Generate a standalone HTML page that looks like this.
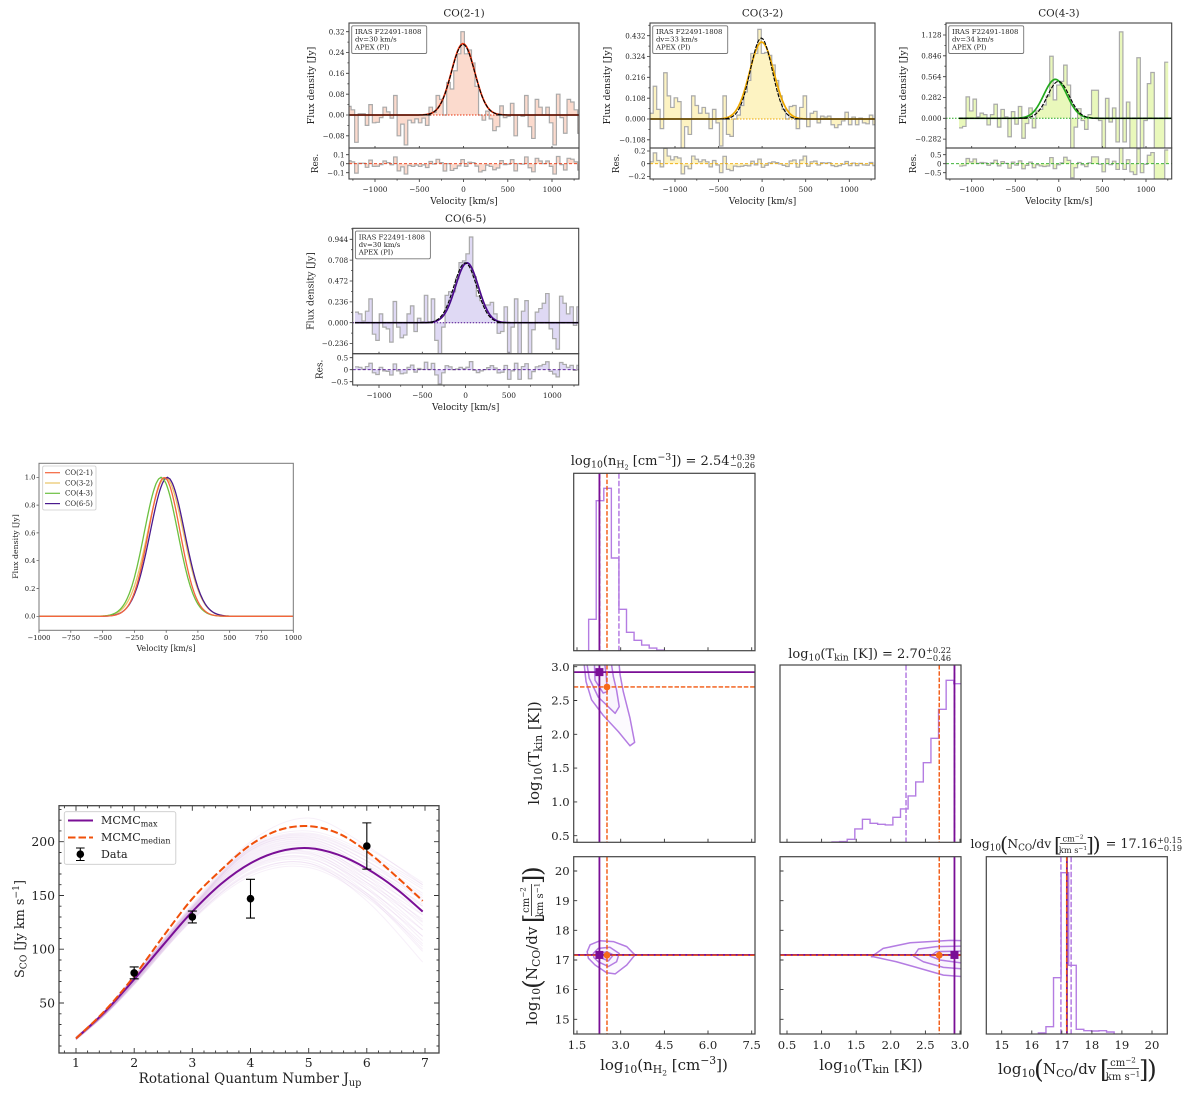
<!DOCTYPE html>
<html lang="en">
<head>
<meta charset="utf-8">
<title>CO line spectra and MCMC corner plot</title>
<style>
html,body{margin:0;padding:0;background:#fff;}
#figure{display:block;width:1200px;height:1094px;}
text{font-family:"DejaVu Serif","Liberation Serif",serif;fill:#222;}
</style>
</head>
<body>
<svg id="figure" xmlns="http://www.w3.org/2000/svg" width="1200" height="1094" viewBox="0 0 1200 1094"></svg>
<script>
/* ---------- spectrum data (flux density per velocity bin, Jy) ---------- */
const co21Flux=[.033,.02,-.105,.005,.005,-.04,.04,-.03,-.028,-.01,.03,.012,-.012,.075,-.08,-.035,-.115,-.02,-.03,-.015,-.03,-.012,-.04,.03,.01,.075,.06,0,.125,.10,.17,.235,.32,.235,.25,.2,.11,0,-.02,.015,-.015,-.06,-.045,.035,-.01,-.005,.045,-.08,0,-.005,.075,-.045,-.09,.06,.03,0,.03,-.03,-.115,.08,-.01,-.07,.06,.05,.02,-.07,.03];
const co21Start=-1310;
const co32Flux=[.03,.17,.05,-.05,.24,.12,.06,.11,.09,-.16,-.04,-.08,.12,.07,.03,.06,.03,-.05,.05,-.02,-.14,.12,-.08,-.09,0,.02,.07,.14,.2,.34,.34,.465,.34,.345,.33,.28,.2,.12,.05,0,.065,.07,-.05,.06,.12,-.04,.03,.04,-.02,.015,.01,.015,-.03,-.045,-.03,-.01,.035,-.03,.01,-.03,.005,-.02,-.025,.02,-.03,.065];
const co32Start=-1290;
const co43Flux=[-.13,-.11,.29,.1,.26,.02,.07,.05,-.09,.05,.19,-.12,.12,.02,-.25,.09,-.08,.16,-.27,-.07,.14,-.13,.1,.12,.18,.3,.84,.25,.45,.5,.72,.45,-.6,-.12,.13,-.03,-.15,.05,.38,.38,-.03,-.45,.27,-.05,.14,-.32,1.17,-.32,.22,-.45,-.6,.82,-.5,-.03,.47,.62,-.9,-.9,-.9,.76];
const co43Start=-1145;
const co65Flux=[.12,.1,.02,.13,.27,-.13,-.2,.1,-.05,-.07,-.22,.24,-.05,-.17,-.14,.1,.19,-.1,.05,.01,.31,.01,.27,-.2,-.55,-.05,.31,.35,.35,.5,.68,.7,.78,.97,.52,.3,.25,.2,.2,.23,.1,-.12,-.1,.18,-.4,-.05,.27,-.4,.13,.25,-.38,-.08,.12,.16,.22,.33,-.07,-.18,-.3,.3,.22,.1,.18,-.03,.18,-.3];
const co65Start=-1277;
const binStep=40;

/* shared line-profile read-off: offset from line centre (km/s) and normalised height */
const profileOffsets=[0,20,40,60,80,100,120,140,160,180,200,220,240,260,280,300,320,340,360,380,400,420,440,460,480];
const profileValues=[1,.987,.95,.891,.815,.726,.631,.534,.441,.355,.278,.212,.158,.115,.081,.056,.038,.0247,.0158,.0098,.006,.0035,.002,.001,.0006];

/* fitted line: peak (Jy), centre (km/s), width factor */
const fit21=[.275,-5,1.05];
const ref21=[.272,-5,1.05];
const fit32=[.40,-5,1.12];
const ref32=[.42,-10,1];
const fit43=[.53,-40,1.05];
const ref43=[.50,-5,1];
const fit65=[.68,15,1.05];
const ref65=[.68,-5,1.05];

const co21Ticks=[-.08,0,.08,.16,.24,.32];
const co32Ticks=[-.108,0,.108,.216,.324,.432];
const co43Ticks=[-.282,0,.282,.564,.846,1.128];
const co65Ticks=[-.236,0,.236,.472,.708,.944];
const co21ResTicks=[-.1,0,.1];
const co32ResTicks=[-.2,0,.2];
const co43ResTicks=[-.5,0,.5];
const co65ResTicks=[-.5,0,.5];
const velocityTicks=[-1000,-500,0,500,1000];
const velocityMinor=[-1250,-750,-250,250,750,1250];

/* ---------- normalised overlay ---------- */
const overlayNames=['CO(2-1)','CO(3-2)','CO(4-3)','CO(6-5)'];
const overlayCentres=[-15,-5,-40,10];
const overlayWidths=[1,1.12,1.05,1.08];
const overlayXTicks=[-1000,-750,-500,-250,0,250,500,750,1000];
const overlayYTicks=[0,.2,.4,.6,.8,1];

/* ---------- CO SLED ---------- */
const sledDataJ=[2,3,4,6];
const sledDataS=[78,130,147,196];
const sledDataErr=[5.5,5.5,18,21.5];
const sledCurveJ=[1,1.5,2,2.5,3,3.5,4,4.5,5,5.5,6,6.5,6.96];
const sledMax=[17,42,72,104,135,161,180,191,194,188,175,156.5,135];
const sledMedian=[17,43,75,112,147,174,197,211,214.5,208,191,168,145];
const sampleJ=[1,1.5,2,3,4,5,6,6.96];
const sledSamples=[
[15.5,39,67,127,168,176,148,103],[16,39,67,128,170,178,150,105],[16,39.5,68,128,171,180,145,88],[16,39.5,68,129,172,180,152,112],
[16,39.5,68,130,174,182,150,98],[16.5,40,69,130,175,184,156,118],[16,40,69,131,176,185,152,100],[16.5,40,69,131,177,186,160,125],
[16.5,40,69,132,178,188,156,108],[16.5,40.5,70,132,179,189,162,128],[16.5,40.5,70,133,180,190,158,112],[17,40.5,70,133,181,191,165,132],
[17,40.5,70,134,182,193,162,118],[17,41,71,134,183,194,168,136],[17,41,71,135,184,195,165,122],[17,41,71,135,185,196,170,140],
[17,41.5,72,136,186,197,168,126],[17,41.5,72,136,187,198,173,142],[17,41.5,72,137,188,199,172,132],[17.5,41.5,72,137,189,200,176,146],
[17.5,42,73,137,190,201,175,136],[17.5,42,73,138,191,202,179,148],[17.5,42,73,138,192,203,178,140],[17.5,42,73,138,192,204,182,150],
[17.5,42.5,74,139,193,205,182,145],[18,42.5,74,139,194,206,185,152],[18,42.5,74,139,194,207,186,156],[18,42.5,74,140,195,208,188,158],
[18,43,75,140,196,210,190,160],[18.5,43,75,141,198,214,194,162],[18.5,43,75,142,200,222,196,160]];

/* ---------- corner plot ---------- */
const nTicks=[1.5,3,4.5,6,7.5];
const tTicks=[.5,1,1.5,2,2.5,3];
const cTicks=[15,16,17,18,19,20];
const nBest=2.27, nMedian=2.53, nQuantiles=[2.28,2.94];
const tBest=2.92, tMedian=2.70, tQuantiles=[2.22,2.92];
const cBest=17.17, cMedian=17.16, cQuantiles=[16.97,17.31];
const nHistStart=1.90, nHistWidth=.26;
const nHistCounts=[94,450,487,278,124,55,31,17,8,2];
const tHistStart=1.15, tHistWidth=.11;
const tHistCounts=[1,2,9,40,69,57,54,52,75,100,139,181,239,312,399,486,476];
const cHistStart=16.22, cHistWidth=.252;
const cHistCounts=[3,22,169,484,206,14,10,9,10,6];
const ntOuter=[[1.75,3.02],[1.81,2.78],[2,2.51],[2.4,2.28],[2.92,2.04],[3.32,1.83],[3.48,1.88],[3.32,2.24],[3.09,2.63],[2.98,2.88],[2.95,3.02]];
const ntMiddle=[[1.85,3.02],[1.92,2.83],[2.23,2.55],[2.81,2.31],[2.95,2.41],[2.86,2.65],[2.75,2.85],[2.69,3.02]];
const ntInner=[[2.1,3.02],[2.12,2.8],[2.4,2.61],[2.54,2.63],[2.5,2.88],[2.46,3.02]];
const ncOuter=[[1.85,17.28],[1.95,17.51],[2.29,17.65],[2.75,17.62],[3.21,17.45],[3.49,17.17],[3.21,16.83],[2.81,16.53],[2.52,16.57],[2.12,16.83],[1.89,17.06]];
const ncMiddle=[[2.06,17.22],[2.23,17.39],[2.63,17.43],[2.95,17.22],[2.86,16.94],[2.58,16.78],[2.23,16.94],[2.08,17.08]];
const ncInner=[[2.23,17.2],[2.52,17.28],[2.75,17.17],[2.58,16.97],[2.35,17.06]];
const tcOuter=[[1.72,17.11],[1.89,17.39],[2.28,17.58],[2.86,17.66],[3.08,17.65],[3.08,16.43],[2.76,16.49],[2.37,16.75],[2.08,16.94],[1.75,17.11]];
const tcMiddle=[[2.33,17.13],[2.4,17.37],[2.66,17.45],[3.05,17.47],[3.05,16.7],[2.76,16.75],[2.47,16.94],[2.33,17.13]];
const tcInner=[[2.57,17.13],[2.66,17.28],[3.05,17.3],[3.05,16.89],[2.71,17]];

/* ---------- helpers ---------- */
const NS='http://www.w3.org/2000/svg';
const root=document.getElementById('figure');
let clipCount=0;
function add(parent,tag,attrs,name){
  const el=document.createElementNS(NS,tag);
  
  
  for(const k in attrs){el.setAttribute(k,attrs[k]);}
  parent.appendChild(el);
  return el;
}
function group(parent,name,attrs){return add(parent,'g',attrs||{},name);}
function label(parent,x,y,str,size,anchor,name,extra){
  const el=add(parent,'text',Object.assign({x:x,y:y,'font-size':size,'text-anchor':anchor||'middle'},extra||{}),name);
  el.textContent=str;
  return el;
}
/* runs: [string, scale, baseline shift in px (positive = up)] */
function rich(parent,x,y,size,runs,anchor,name,rotate){
  const attrs={x:x,y:y,'font-size':size,'text-anchor':anchor||'middle'};
  if(rotate){attrs.transform='rotate('+rotate+' '+x+' '+y+')';}
  const el=add(parent,'text',attrs,name);
  let prev=0;
  runs.forEach(function(r){
    const t=document.createElementNS(NS,'tspan');
    t.setAttribute('font-size',size*(r[1]||1));
    t.setAttribute('dy',prev-(r[2]||0));
    t.textContent=r[0];
    prev=r[2]||0;
    el.appendChild(t);
  });
  return el;
}
function linear(a0,p0,a1,p1){return function(v){return p0+(v-a0)*(p1-p0)/(a1-a0);};}
function minusSign(s){return String(s).replace('-','\u2212');}
function clipRect(parent,x,y,w,h){
  const id='clip'+(++clipCount);
  const c=add(parent,'clipPath',{id:id},'clip-region');
  add(c,'rect',{x:x,y:y,width:w,height:h},'clip-rect');
  return 'url(#'+id+')';
}
function profileAt(d){
  const a=Math.abs(d);
  const last=profileOffsets.length-1;
  if(a>=profileOffsets[last]){return 0;}
  let i=0;
  while(profileOffsets[i+1]<a){i++;}
  const f=(a-profileOffsets[i])/(profileOffsets[i+1]-profileOffsets[i]);
  return profileValues[i]+f*(profileValues[i+1]-profileValues[i]);
}
function lineModel(v,fit){return fit[0]*profileAt((v-fit[1])/fit[2]);}
function linePath(xs,ys){
  return xs.map(function(x,i){return (i?'L':'M')+x.toFixed(2)+' '+ys[i].toFixed(2);}).join('');
}
function spline(xs,ys){
  let d='M'+xs[0].toFixed(2)+' '+ys[0].toFixed(2);
  for(let i=0;i<xs.length-1;i++){
    const i0=Math.max(i-1,0), i3=Math.min(i+2,xs.length-1);
    const c1x=xs[i]+(xs[i+1]-xs[i0])/6, c1y=ys[i]+(ys[i+1]-ys[i0])/6;
    const c2x=xs[i+1]-(xs[i3]-xs[i])/6, c2y=ys[i+1]-(ys[i3]-ys[i])/6;
    d+='C'+c1x.toFixed(2)+' '+c1y.toFixed(2)+' '+c2x.toFixed(2)+' '+c2y.toFixed(2)+' '+xs[i+1].toFixed(2)+' '+ys[i+1].toFixed(2);
  }
  return d;
}
function stepPaths(start,width,values,sx,sy){
  let d='';
  values.forEach(function(v,i){
    const x0=sx(start+i*width), x1=sx(start+(i+1)*width), y=sy(v).toFixed(2);
    d+=(i?'L'+x0.toFixed(2)+' '+y:'M'+x0.toFixed(2)+' '+y)+'L'+x1.toFixed(2)+' '+y;
  });
  const xa=sx(start).toFixed(2), xb=sx(start+values.length*width).toFixed(2), y0=sy(0).toFixed(2);
  return {line:d,fill:d+'L'+xb+' '+y0+'L'+xa+' '+y0+'Z'};
}
function tickPath(list){return list.join('');}

/* ---------- spectrum panel ---------- */
function velocityGrid(v0){
  const out=[];
  for(let v=v0;v<=1310;v+=20){out.push(v);}
  return out;
}
function spectrumPanel(p,flux,start,fit,ref,yTicks,resTicks,decimals){
  const g=group(root,p.key+'-panel');
  const sx=linear(-1000,p.xm,1000,p.xp);
  const sy=linear(0,p.y0,yTicks[yTicks.length-1],p.yTop);
  const sr=linear(0,p.r0,resTicks[2],p.rTop);
  const w=p.right-p.left;
  label(g,(p.left+p.right)/2,p.top-6.3,p.title,10.4,'middle',p.key+'-title');
  const cm=clipRect(g,p.left,p.top,w,p.mid-p.top);
  const cr=clipRect(g,p.left,p.mid,w,p.bottom-p.mid);
  /* main spectrum */
  const inner=group(g,p.key+'-spectrum',{'clip-path':cm});
  const st=stepPaths(start,binStep,flux,sx,sy);
  add(inner,'path',{d:st.fill,fill:p.fill,stroke:'none'},p.key+'-flux-fill');
  add(inner,'path',{d:st.line,fill:'none',stroke:'#aaa','stroke-width':1.2},p.key+'-flux-steps');
  add(inner,'line',{x1:p.left,x2:p.right,y1:sy(0),y2:sy(0),stroke:p.color,'stroke-width':1,'stroke-dasharray':'1.5 1.5'},p.key+'-zero-line');
  const vs=velocityGrid(start);
  add(inner,'path',{d:linePath(vs.map(sx),vs.map(function(v){return sy(lineModel(v,fit));})),fill:'none',stroke:p.color,'stroke-width':1.7},p.key+'-gaussian-fit');
  add(inner,'path',{d:linePath(vs.map(sx),vs.map(function(v){return sy(lineModel(v,ref));})),fill:'none',stroke:'#000','stroke-width':1.1,'stroke-dasharray':'4 1.4'},p.key+'-reference-fit');
  const wing0=vs.filter(function(v){return v<-360;});
  const wing1=vs.filter(function(v){return v>360;});
  add(inner,'path',{d:'M'+sx(wing0[0])+' '+sy(0)+'H'+sx(wing0[wing0.length-1])+'M'+sx(wing1[0])+' '+sy(0)+'H'+sx(wing1[wing1.length-1]),stroke:'#000','stroke-width':1.1,fill:'none'},p.key+'-baseline');
  /* residual */
  const resid=flux.map(function(f,i){return f-lineModel(start+(i+.5)*binStep,fit);});
  const rg=group(g,p.key+'-residuals',{'clip-path':cr});
  const rt=stepPaths(start,binStep,resid,sx,sr);
  add(rg,'path',{d:rt.fill,fill:p.fill,stroke:'none'},p.key+'-residual-fill');
  add(rg,'path',{d:rt.line,fill:'none',stroke:'#aaa','stroke-width':1.2},p.key+'-residual-steps');
  add(rg,'line',{x1:p.left,x2:p.right,y1:sr(0),y2:sr(0),stroke:p.color,'stroke-width':.8,'stroke-dasharray':'3 2'},p.key+'-residual-zero');
  /* ticks */
  const t=[];
  velocityTicks.forEach(function(v){
    const x=sx(v).toFixed(1);
    t.push('M'+x+' '+p.bottom+'v3M'+x+' '+p.mid+'v-2');
    label(g,sx(v),p.bottom+13,minusSign(v),7.4,'middle','x-tick-label');
  });
  velocityMinor.forEach(function(v){t.push('M'+sx(v).toFixed(1)+' '+p.bottom+'v1.6');});
  yTicks.forEach(function(v){
    const y=sy(v);
    t.push('M'+p.left+' '+y.toFixed(1)+'h-3');
    const m=sy(v+(yTicks[1]-yTicks[0])/2);
    if(m>p.top){t.push('M'+p.left+' '+m.toFixed(1)+'h-1.6');}
    label(g,p.left-4.5,y+2.6,minusSign(v.toFixed(decimals)),7.1,'end','y-tick-label');
  });
  resTicks.forEach(function(v){
    const y=sr(v);
    t.push('M'+p.left+' '+y.toFixed(1)+'h-3');
    label(g,p.left-4.5,y+2.6,minusSign(v),7.1,'end','residual-tick-label');
  });
  add(g,'path',{d:tickPath(t),stroke:'#333','stroke-width':.8,fill:'none'},p.key+'-ticks');
  add(g,'rect',{x:p.left,y:p.top,width:w,height:p.mid-p.top,fill:'none',stroke:'#444','stroke-width':1.1},p.key+'-main-frame');
  add(g,'rect',{x:p.left,y:p.mid,width:w,height:p.bottom-p.mid,fill:'none',stroke:'#444','stroke-width':1.1},p.key+'-residual-frame');
  /* labels */
  label(g,p.left+p.yLabel,(p.top+p.mid)/2,'Flux density [Jy]',9.4,'middle','y-axis-title',{transform:'rotate(-90 '+(p.left+p.yLabel)+' '+((p.top+p.mid)/2)+')'});
  label(g,p.left+p.resLabel,(p.mid+p.bottom)/2,'Res.',9,'middle','residual-axis-title',{transform:'rotate(-90 '+(p.left+p.resLabel)+' '+((p.mid+p.bottom)/2)+')'});
  label(g,(p.left+p.right)/2,p.bottom+25,'Velocity [km/s]',9,'middle','x-axis-title');
  /* info box */
  const b=group(g,p.key+'-info-box');
  add(b,'rect',{x:p.left+2.7,y:p.top+2.8,width:75,height:27.7,rx:1.5,fill:'#fff',stroke:'#777','stroke-width':.9},'info-box-frame');
  label(b,p.left+6,p.top+11,'IRAS F22491-1808',6.9,'start','target-name');
  label(b,p.left+6,p.top+18.7,p.dv,6.9,'start','channel-width');
  label(b,p.left+6,p.top+26.4,'APEX (PI)',6.9,'start','telescope-name');
}
spectrumPanel({key:'co21',title:'CO(2-1)',dv:'dv=30 km/s',left:349,right:579,top:23,mid:148,bottom:179,xm:375,xp:552,y0:115,yTop:31.7,r0:163.7,rTop:154.7,color:'#e8320c',fill:'#fbdacd',yLabel:-35,resLabel:-31},co21Flux,co21Start,fit21,ref21,co21Ticks,co21ResTicks,2);
spectrumPanel({key:'co32',title:'CO(3-2)',dv:'dv=33 km/s',left:650,right:875,top:23,mid:148,bottom:179,xm:675,xp:849.3,y0:119,yTop:35.7,r0:163.7,rTop:151,color:'#eda800',fill:'#fdf3c2',yLabel:-40,resLabel:-31},co32Flux,co32Start,fit32,ref32,co32Ticks,co32ResTicks,3);
spectrumPanel({key:'co43',title:'CO(4-3)',dv:'dv=34 km/s',left:946,right:1171.7,top:23,mid:148,bottom:179,xm:971.7,xp:1146,y0:118.3,yTop:35,r0:163.7,rTop:154.7,color:'#22a81c',fill:'#e9f8bb',yLabel:-40,resLabel:-30},co43Flux,co43Start,fit43,ref43,co43Ticks,co43ResTicks,3);
spectrumPanel({key:'co65',title:'CO(6-5)',dv:'dv=30 km/s',left:352.7,right:578.7,top:228.3,mid:353.7,bottom:385,xm:379,xp:552.3,y0:322.7,yTop:239.3,r0:369.7,rTop:357.7,color:'#4b0a8c',fill:'#dfd9f4',yLabel:-39,resLabel:-30},co65Flux,co65Start,fit65,ref65,co65Ticks,co65ResTicks,3);

/* ---------- normalised line overlay ---------- */
(function(){
  const g=group(root,'normalised-profile-plot');
  const L=39,R=293.3,T=463.3,B=630.3;
  const sx=linear(-1000,L,1000,R), sy=linear(0,616.3,1,477.3);
  const colors=['#f4643c','#e8c466','#6cc040','#4a1a8e'];
  const vs=[];
  for(let v=-1000;v<=1000;v+=10){vs.push(v);}
  const order=[1,3,2,0];
  order.forEach(function(i){
    const fit=[1,overlayCentres[i],overlayWidths[i]];
    add(g,'path',{d:linePath(vs.map(sx),vs.map(function(v){return sy(lineModel(v,fit));})),fill:'none',stroke:colors[i],'stroke-width':1.3},'overlay-line');
  });
  const t=[];
  overlayXTicks.forEach(function(v){
    t.push('M'+sx(v).toFixed(1)+' '+B+'v2.5');
    label(g,sx(v),B+9.8,minusSign(v),6.8,'middle','x-tick-label');
  });
  overlayYTicks.forEach(function(v){
    t.push('M'+L+' '+sy(v).toFixed(1)+'h-2.5');
    label(g,L-3.5,sy(v)+2.4,v.toFixed(1),6.8,'end','y-tick-label');
  });
  add(g,'path',{d:tickPath(t),stroke:'#444','stroke-width':.7,fill:'none'},'overlay-ticks');
  add(g,'rect',{x:L,y:T,width:R-L,height:B-T,fill:'none',stroke:'#777','stroke-width':1},'overlay-frame');
  label(g,166,651,'Velocity [km/s]',7.9,'middle','x-axis-title');
  label(g,18,546.5,'Flux density [Jy]',7.8,'middle','y-axis-title',{transform:'rotate(-90 18 546.5)'});
  const lg=group(g,'overlay-legend');
  add(lg,'rect',{x:42.7,y:466,width:53.3,height:44,rx:1.5,fill:'#fff',stroke:'#ccc','stroke-width':.8},'legend-frame');
  overlayNames.forEach(function(n,i){
    const y=472.7+i*10.3;
    add(lg,'line',{x1:45,x2:60,y1:y,y2:y,stroke:colors[i],'stroke-width':1.2},'legend-line');
    label(lg,65,y+2.4,n,7,'start','legend-entry');
  });
})();

/* ---------- CO SLED ---------- */
(function(){
  const g=group(root,'co-sled-plot');
  const L=59,R=439,T=805.7,B=1053;
  const sx=linear(1,76,7,425), sy=linear(50,1003,200,841.7);
  const c=clipRect(g,L,T,R-L,B-T);
  const inner=group(g,'sled-series',{'clip-path':c});
  sledSamples.forEach(function(row){
    add(inner,'path',{d:spline(sampleJ.map(sx),row.map(sy)),fill:'none',stroke:'#8a2cb0','stroke-opacity':.07,'stroke-width':1},'mcmc-sample-line');
  });
  add(inner,'path',{d:spline(sledCurveJ.map(sx),sledMax.map(sy)),fill:'none',stroke:'#7a0f96','stroke-width':2},'mcmc-max-line');
  add(inner,'path',{d:spline(sledCurveJ.map(sx),sledMedian.map(sy)),fill:'none',stroke:'#f0500a','stroke-width':2,'stroke-dasharray':'7.5 3'},'mcmc-median-line');
  sledDataJ.forEach(function(j,i){
    const x=sx(j), y=sy(sledDataS[i]), y0=sy(sledDataS[i]-sledDataErr[i]), y1=sy(sledDataS[i]+sledDataErr[i]);
    add(inner,'path',{d:'M'+x+' '+y0+'V'+y1+'M'+(x-4.5)+' '+y0+'h9M'+(x-4.5)+' '+y1+'h9',stroke:'#000','stroke-width':1.1,fill:'none'},'data-error-bar');
    add(inner,'circle',{cx:x,cy:y,r:3.8,fill:'#000'},'data-point');
  });
  const t=[];
  for(let i=0;i<=6;i++){
    const x=sx(1+i).toFixed(1);
    t.push('M'+x+' '+B+'v-5M'+x+' '+T+'v5');
    label(g,sx(1+i),B+13.8,String(1+i),12.4,'middle','x-tick-label');
  }
  for(let m=.8;m<=7.2;m+=.2){
    if(Math.abs(m-Math.round(m))<.01){continue;}
    const x=sx(m).toFixed(1);
    t.push('M'+x+' '+B+'v-2.5M'+x+' '+T+'v2.5');
  }
  [50,100,150,200].forEach(function(v){
    const y=sy(v).toFixed(1);
    t.push('M'+L+' '+y+'h5M'+R+' '+y+'h-5');
    label(g,L-4,sy(v)+4.4,String(v),12.4,'end','y-tick-label');
  });
  for(let v=10;v<=230;v+=10){
    if(v%50===0){continue;}
    const y=sy(v).toFixed(1);
    t.push('M'+L+' '+y+'h2.5M'+R+' '+y+'h-2.5');
  }
  add(g,'path',{d:tickPath(t),stroke:'#333','stroke-width':.9,fill:'none'},'sled-ticks');
  add(g,'rect',{x:L,y:T,width:R-L,height:B-T,fill:'none',stroke:'#444','stroke-width':1.3},'sled-frame');
  rich(g,250,1083,13.6,[['Rotational Quantum Number J'],['up',.72,-3]],'middle','x-axis-title');
  rich(g,24,929,12.8,[['S'],['CO',.72,-2.5],[' [Jy km s'],['\u22121',.72,5],[']']],'middle','y-axis-title',-90);
  const lg=group(g,'sled-legend');
  add(lg,'rect',{x:64.3,y:811.7,width:111.5,height:52.6,rx:2,fill:'#fff','fill-opacity':.85,stroke:'#ccc','stroke-width':.9},'legend-frame');
  add(lg,'line',{x1:68,x2:93,y1:820.5,y2:820.5,stroke:'#7a0f96','stroke-width':2},'legend-max-line');
  add(lg,'line',{x1:68,x2:93,y1:837.5,y2:837.5,stroke:'#f0500a','stroke-width':2,'stroke-dasharray':'7.5 3'},'legend-median-line');
  add(lg,'path',{d:'M80.3 848V860.5M76 848h8.6M76 860.5h8.6',stroke:'#000','stroke-width':1.1,fill:'none'},'legend-data-error-bar');
  add(lg,'circle',{cx:80.3,cy:854.2,r:3.8,fill:'#000'},'legend-data-point');
  rich(lg,101,824,11.1,[['MCMC'],['max',.72,-2.4]],'start','legend-entry-max');
  rich(lg,101,841,11.1,[['MCMC'],['median',.72,-2.4]],'start','legend-entry-median');
  label(lg,101,858,'Data',11.1,'start','legend-entry-data');
})();

/* ---------- corner plot ---------- */
const nX=linear(1.5,577,7.5,751.7);
const tX=linear(.5,787,3,960);
const cX=linear(15,1001.7,20,1152);
const tY=linear(.5,835.7,3,666.7);
const cY=linear(15,1019.3,20,871);
const bestColor='#7a0f96', medianColor='#f2570f', quantileColor='#b47ce2';

function cornerFrame(g,L,R,T,B,opt){
  const t=[];
  (opt.xTicks||[]).forEach(function(v){
    t.push('M'+opt.sx(v).toFixed(1)+' '+B+'v-3.5');
    if(opt.xLabels){label(g,opt.sx(v),B+15,v.toFixed(opt.xDec),11.6,'middle','x-tick-label');}
  });
  (opt.yTicks||[]).forEach(function(v){
    t.push('M'+L+' '+opt.sy(v).toFixed(1)+'h3.5');
    if(opt.yLabels){label(g,L-4,opt.sy(v)+4.1,v.toFixed(opt.yDec),11.6,'end','y-tick-label');}
  });
  add(g,'path',{d:tickPath(t),stroke:'#333','stroke-width':.9,fill:'none'},'corner-ticks');
  add(g,'rect',{x:L,y:T,width:R-L,height:B-T,fill:'none',stroke:'#444','stroke-width':1.2},'corner-frame');
}
function histPanel(key,L,R,T,B,sx,ticks,dec,start,width,counts,best,median,quant,showLabels){
  const g=group(root,key+'-histogram-panel');
  const scale=linear(0,B,532,T);
  const c=clipRect(g,L,T,R-L,B-T);
  const inner=group(g,key+'-histogram-series',{'clip-path':c});
  const st=stepPaths(start,width,counts,sx,scale);
  const x0=sx(start).toFixed(2), x1=sx(start+counts.length*width).toFixed(2);
  add(inner,'path',{d:'M'+x0+' '+B+'L'+st.line.slice(1)+'L'+x1+' '+B,fill:'none',stroke:quantileColor,'stroke-width':1.4},key+'-histogram');
  quant.forEach(function(q){
    add(inner,'line',{x1:sx(q),x2:sx(q),y1:T,y2:B,stroke:quantileColor,'stroke-width':1.5,'stroke-dasharray':'5.5 2'},key+'-quantile-line');
  });
  add(inner,'line',{x1:sx(best),x2:sx(best),y1:T,y2:B,stroke:bestColor,'stroke-width':1.8},key+'-best-line');
  add(inner,'line',{x1:sx(median),x2:sx(median),y1:T,y2:B,stroke:medianColor,'stroke-width':1.4,'stroke-dasharray':'4.5 1.8'},key+'-median-line');
  cornerFrame(g,L,R,T,B,{sx:sx,xTicks:ticks,xLabels:showLabels,xDec:dec});
  return g;
}
function contourPanel(key,L,R,T,B,sx,sy,xTicks,xDec,yTicks,yDec,xLabels,yLabels,contours,bx,by,mx,my){
  const g=group(root,key+'-contour-panel');
  const c=clipRect(g,L,T,R-L,B-T);
  const inner=group(g,key+'-contours',{'clip-path':c});
  contours.forEach(function(pts){
    const xs=pts.map(function(p){return sx(p[0]);}), ys=pts.map(function(p){return sy(p[1]);});
    add(inner,'path',{d:linePath(xs,ys)+'Z',fill:'#9a5fd8','fill-opacity':.03,stroke:'none'},'contour-fill');
    const d=linePath(xs,ys)+(key==='tkin-vs-nh2'?'':'Z');
    add(inner,'path',{d:d,fill:'none',stroke:quantileColor,'stroke-width':1.5,'stroke-linejoin':'round'},'contour-level');
  });
  add(inner,'line',{x1:sx(bx),x2:sx(bx),y1:T,y2:B,stroke:bestColor,'stroke-width':1.8},key+'-best-vertical');
  add(inner,'line',{x1:L,x2:R,y1:sy(by),y2:sy(by),stroke:bestColor,'stroke-width':1.8},key+'-best-horizontal');
  add(inner,'line',{x1:sx(mx),x2:sx(mx),y1:T,y2:B,stroke:medianColor,'stroke-width':1.4,'stroke-dasharray':'4.5 1.8'},key+'-median-vertical');
  add(inner,'line',{x1:L,x2:R,y1:sy(my),y2:sy(my),stroke:medianColor,'stroke-width':1.4,'stroke-dasharray':'4.5 1.8'},key+'-median-horizontal');
  add(inner,'rect',{x:sx(bx)-4,y:sy(by)-4,width:8,height:8,fill:bestColor},key+'-best-marker');
  add(inner,'circle',{cx:sx(mx),cy:sy(my),r:3.4,fill:'#f76a18'},key+'-median-marker');
  cornerFrame(g,L,R,T,B,{sx:sx,sy:sy,xTicks:xTicks,xDec:xDec,xLabels:xLabels,yTicks:yTicks,yDec:yDec,yLabels:yLabels});
  return g;
}
function nCoLabel(parent,x,y,k,rot,name){
  const g=group(parent,name,{transform:'translate('+x+' '+y+') rotate('+rot+') scale('+k+')'});
  rich(g,0,0,15,[['log'],['10',.72,-3]],'start','log-prefix');
  add(g,'text',{x:36,y:4,'font-size':25},'open-paren').textContent='(';
  rich(g,45,0,15,[['N'],['CO',.72,-3],['/dv']],'start','column-density-symbol');
  add(g,'text',{x:102,y:4,'font-size':24},'open-bracket').textContent='[';
  rich(g,125,-8,10,[['cm'],['\u22122',.72,3.5]],'middle','unit-numerator');
  add(g,'line',{x1:109,x2:141,y1:-5.5,y2:-5.5,stroke:'#222','stroke-width':.8},'unit-fraction-bar');
  rich(g,125,6,10,[['km s'],['\u22121',.72,3.5]],'middle','unit-denominator');
  add(g,'text',{x:141,y:4,'font-size':24},'close-bracket').textContent=']';
  add(g,'text',{x:149,y:4,'font-size':25},'close-paren').textContent=')';
  return g;
}
function stacked(parent,x,y,up,down,name){
  label(parent,x,y-5,up,8.2,'start',name+'-upper-error');
  label(parent,x,y+3,down,8.2,'start',name+'-lower-error');
}

(function(){
  const g=group(root,'corner-labels');
  histPanel('nh2',573.7,755,473.3,650.7,nX,nTicks,1,nHistStart,nHistWidth,nHistCounts,nBest,nMedian,nQuantiles,false);
  contourPanel('tkin-vs-nh2',573.7,755,665,842.3,nX,tY,nTicks,1,tTicks,1,false,true,[ntOuter,ntMiddle,ntInner],nBest,tBest,nMedian,tMedian);
  contourPanel('nco-vs-nh2',573.7,755,856.7,1034,nX,cY,nTicks,1,cTicks,0,true,true,[ncOuter,ncMiddle,ncInner],nBest,cBest,nMedian,cMedian);
  histPanel('tkin',780,961,665,842.3,tX,tTicks,1,tHistStart,tHistWidth,tHistCounts,tBest,tMedian,tQuantiles,false);
  contourPanel('nco-vs-tkin',780,961,856.7,1034,tX,cY,tTicks,1,cTicks,0,true,false,[tcOuter,tcMiddle,tcInner],tBest,cBest,tMedian,cMedian);
  histPanel('nco',986.3,1167.3,856.7,1034,cX,cTicks,0,cHistStart,cHistWidth,cHistCounts,cBest,cMedian,cQuantiles,true);

  /* titles */
  rich(g,729.5,465,13,[['log'],['10',.72,-2.5],['(n'],['H',.72,-2.5],['2',.5,-4.5],[' [cm'],['\u22123',.72,5],[']) = 2.54']],'end','nh2-title');
  stacked(g,730,465,'+0.39','\u22120.26','nh2-title');
  rich(g,926,658,13,[['log'],['10',.72,-2.5],['(T'],['kin',.72,-2.5],[' [K]) = 2.70']],'end','tkin-title');
  stacked(g,926,658,'+0.22','\u22120.46','tkin-title');
  nCoLabel(g,970.5,848,.82,0,'nco-title-symbol');
  label(g,1157,848,'= 17.16',12.8,'end','nco-title-value');
  stacked(g,1157,848,'+0.15','\u22120.19','nco-title');

  /* axis titles */
  rich(g,664,1070,15,[['log'],['10',.72,-3],['(n'],['H',.72,-3],['2',.5,-5.5],[' [cm'],['\u22123',.72,6],['])']],'middle','nh2-x-axis-title');
  rich(g,871,1070,15,[['log'],['10',.72,-3],['(T'],['kin',.72,-3],[' [K])']],'middle','tkin-x-axis-title');
  nCoLabel(g,998,1074,1,0,'nco-x-axis-title');
  rich(g,539,753,15,[['log'],['10',.72,-3],['(T'],['kin',.72,-3],[' [K])']],'middle','tkin-y-axis-title',-90);
  nCoLabel(g,537,1025,1,-90,'nco-y-axis-title');
})();
</script>
</body>
</html>
